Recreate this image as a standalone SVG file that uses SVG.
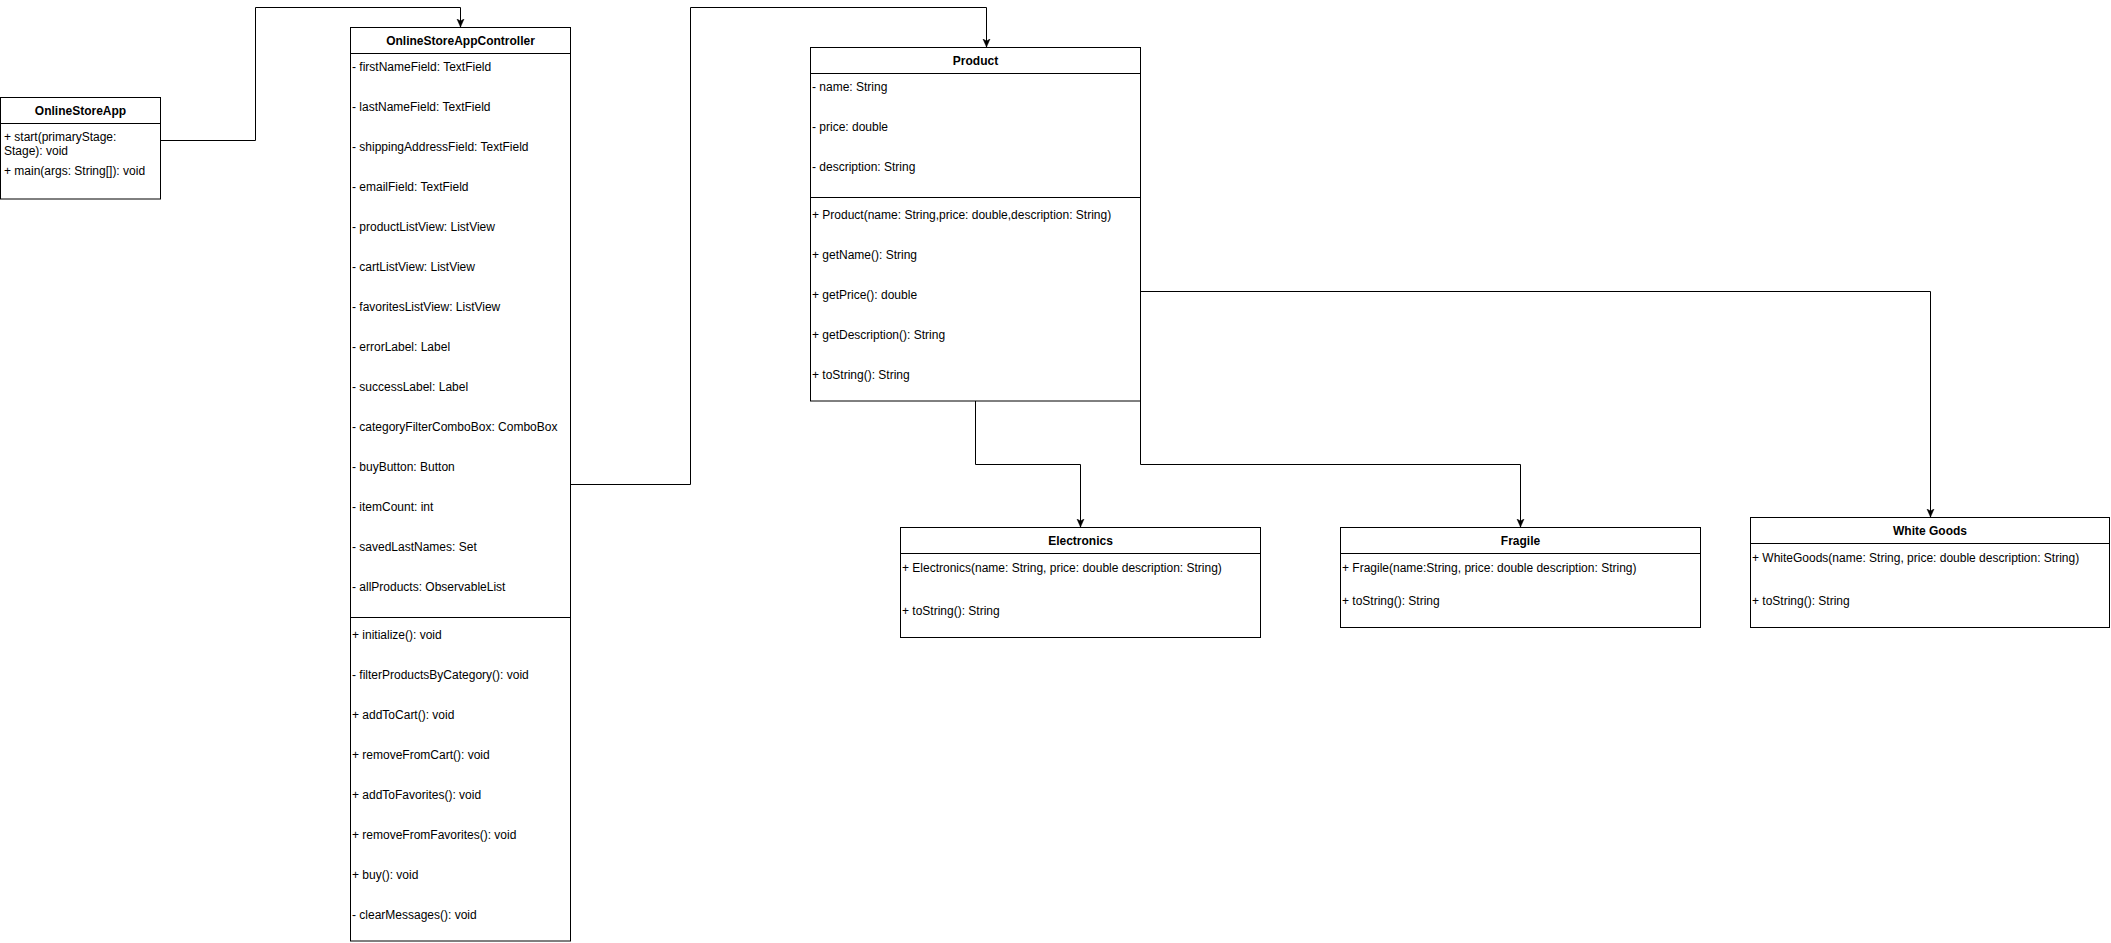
<svg xmlns="http://www.w3.org/2000/svg" width="2111" height="943" viewBox="0 0 2111 943">
<style>
text{font-family:"Liberation Sans",Arial,Helvetica,sans-serif;font-size:12px;fill:#000;}
.t{font-weight:bold;text-anchor:middle;}
.box{fill:#fff;stroke:#000;stroke-width:1;}
.ln{stroke:#000;stroke-width:1;fill:none;}
.c{stroke:#000;stroke-width:1;fill:none;marker-end:url(#arr);}
</style>
<defs>
<marker id="arr" markerUnits="userSpaceOnUse" markerWidth="10" markerHeight="10" refX="8" refY="4" orient="auto">
<path d="M0,0.5 L8,4 L0,7.5 L2,4 z" fill="#000" stroke="#000" stroke-width="0.5"/>
</marker>
</defs>
<rect width="2111" height="943" fill="#fff"/>
<g id="connectors">
<path class="c" d="M160.5 140.5 H255.5 V7.5 H460.5 V27"/>
<path class="c" d="M570.5 484.5 H690.5 V7.5 H986.5 V47"/>
<path class="c" d="M975.5 401 V464.5 H1080.5 V527"/>
<path class="c" d="M1140.5 401 V464.5 H1520.5 V527"/>
<path class="c" d="M1140.5 291.5 H1930.5 V517"/>
</g>
<g id="OnlineStoreApp">
<rect class="box" x="0.5" y="97.5" width="160" height="101.5"/>
<line class="ln" x1="0.5" y1="123.5" x2="160.5" y2="123.5"/>
<text class="t" x="80.5" y="115">OnlineStoreApp</text>
<text x="4" y="141">+ start(primaryStage:</text>
<text x="4" y="155">Stage): void</text>
<text x="4" y="175">+ main(args: String[]): void</text>
</g>
<g id="OnlineStoreAppController">
<rect class="box" x="350.5" y="27.5" width="220" height="913.5"/>
<line class="ln" x1="350.5" y1="53.5" x2="570.5" y2="53.5"/>
<line class="ln" x1="350.5" y1="617.5" x2="570.5" y2="617.5"/>
<text class="t" x="460.5" y="44.5">OnlineStoreAppController</text>
<text x="352" y="71">- firstNameField: TextField</text>
<text x="352" y="111">- lastNameField: TextField</text>
<text x="352" y="151">- shippingAddressField: TextField</text>
<text x="352" y="191">- emailField: TextField</text>
<text x="352" y="231">- productListView: ListView</text>
<text x="352" y="271">- cartListView: ListView</text>
<text x="352" y="311">- favoritesListView: ListView</text>
<text x="352" y="351">- errorLabel: Label</text>
<text x="352" y="391">- successLabel: Label</text>
<text x="352" y="431">- categoryFilterComboBox: ComboBox</text>
<text x="352" y="471">- buyButton: Button</text>
<text x="352" y="511">- itemCount: int</text>
<text x="352" y="551">- savedLastNames: Set</text>
<text x="352" y="591">- allProducts: ObservableList</text>
<text x="352" y="639">+ initialize(): void</text>
<text x="352" y="679">- filterProductsByCategory(): void</text>
<text x="352" y="719">+ addToCart(): void</text>
<text x="352" y="759">+ removeFromCart(): void</text>
<text x="352" y="799">+ addToFavorites(): void</text>
<text x="352" y="839">+ removeFromFavorites(): void</text>
<text x="352" y="879">+ buy(): void</text>
<text x="352" y="919">- clearMessages(): void</text>
</g>
<g id="Product">
<rect class="box" x="810.5" y="47.5" width="330" height="353.5"/>
<line class="ln" x1="810.5" y1="73.5" x2="1140.5" y2="73.5"/>
<line class="ln" x1="810.5" y1="197.5" x2="1140.5" y2="197.5"/>
<text class="t" x="975.5" y="64.5">Product</text>
<text x="812" y="91">- name: String</text>
<text x="812" y="131">- price: double</text>
<text x="812" y="171">- description: String</text>
<text x="812" y="218.5">+ Product(name: String,price: double,description: String)</text>
<text x="812" y="259">+ getName(): String</text>
<text x="812" y="299">+ getPrice(): double</text>
<text x="812" y="339">+ getDescription(): String</text>
<text x="812" y="379">+ toString(): String</text>
</g>
<g id="Electronics">
<rect class="box" x="900.5" y="527.5" width="360" height="110"/>
<line class="ln" x1="900.5" y1="553.5" x2="1260.5" y2="553.5"/>
<text class="t" x="1080.5" y="544.5">Electronics</text>
<text x="902" y="571.5">+ Electronics(name: String, price: double description: String)</text>
<text x="902" y="615">+ toString(): String</text>
</g>
<g id="Fragile">
<rect class="box" x="1340.5" y="527.5" width="360" height="100"/>
<line class="ln" x1="1340.5" y1="553.5" x2="1700.5" y2="553.5"/>
<text class="t" x="1520.5" y="544.5">Fragile</text>
<text x="1342" y="571.5">+ Fragile(name:String, price: double description: String)</text>
<text x="1342" y="605">+ toString(): String</text>
</g>
<g id="WhiteGoods">
<rect class="box" x="1750.5" y="517.5" width="359" height="110"/>
<line class="ln" x1="1750.5" y1="543.5" x2="2109.5" y2="543.5"/>
<text class="t" x="1930" y="534.5">White Goods</text>
<text x="1752" y="561.5">+ WhiteGoods(name: String, price: double description: String)</text>
<text x="1752" y="605">+ toString(): String</text>
</g>
</svg>
